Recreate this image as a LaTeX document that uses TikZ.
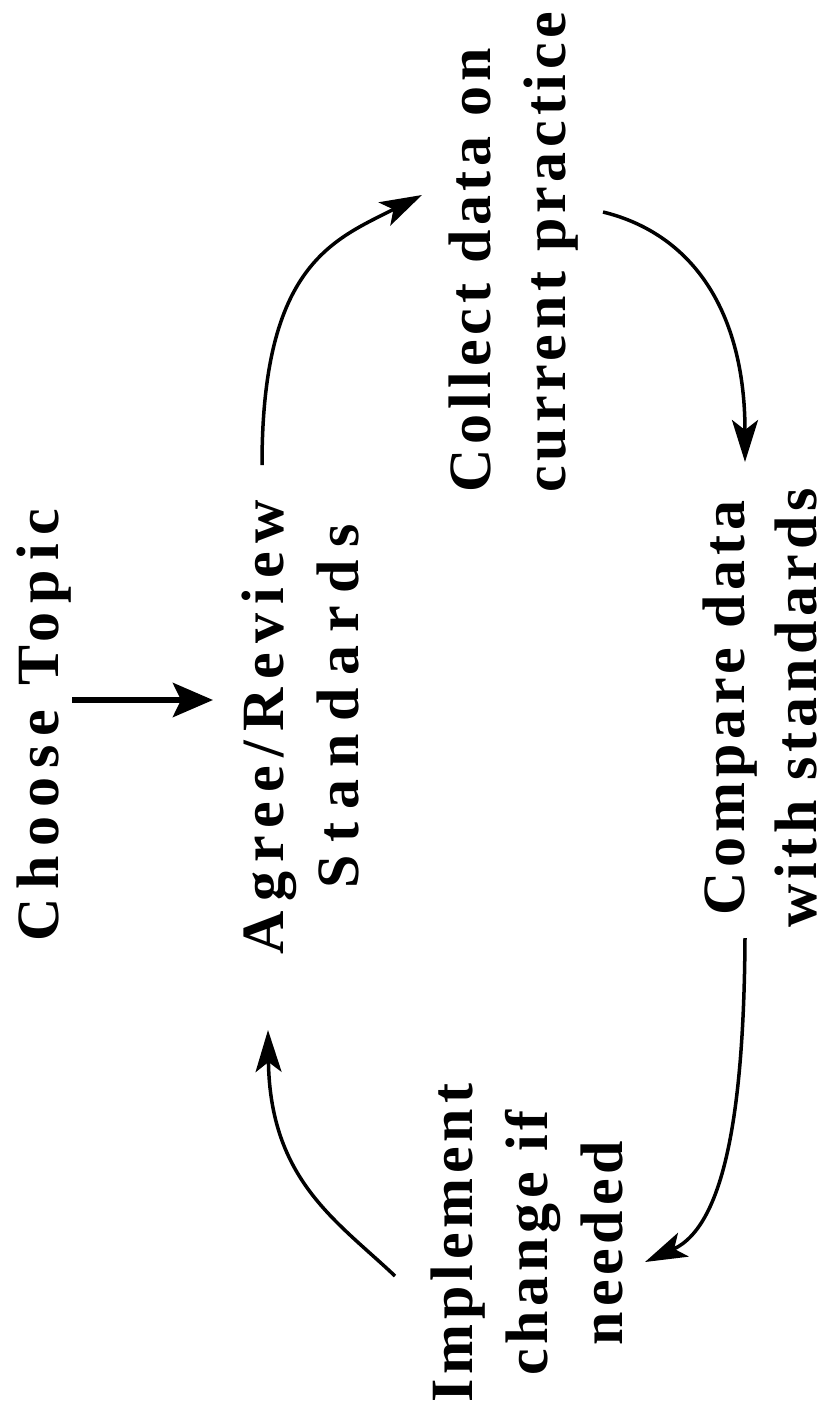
\documentclass[tikz,border=0pt]{standalone}
\usepackage{fontspec}
\setmainfont{Liberation Serif}
\usetikzlibrary{arrows.meta,calc}
\tikzset{
  lbl/.style={rotate=90, inner sep=0pt, align=center,
    font=\bfseries\fontsize{60}{75}\selectfont},
  conn/.style={line width=3.5pt, -{Stealth[length=42pt,width=26pt,inset=10pt]}},
  thickconn/.style={line width=6pt, -{Stealth[length=40pt,width=34pt,inset=8pt]}}
}
\newcommand{\lsp}[2]{{\addfontfeature{LetterSpace=#1}#2}}
\begin{document}
\begin{tikzpicture}[x=1pt,y=-1pt]
\fill[white] (0,0) rectangle (831,1405);
\useasboundingbox (0,0) rectangle (831,1405);

\node[lbl] (choose) at (44,725) {\lsp{15}{Choose Topic}};
\node[lbl] (agree) at (300,727) {\lsp{15}{Agree/Review}\\\hspace*{42pt}\lsp{21}{Standards}};
\node[lbl, align=left] (collect) at (514,252) {\lsp{8}{Collect data on}\\\lsp{8}{current practice}};
\node[lbl, font=\bfseries\fontsize{60}{72}\selectfont] (compare) at (760,708) {\lsp{8}{Compare data}\\\lsp{8}{with standards}};
\node[lbl] (implement) at (527,1243) {\lsp{8}{Implement}\\\lsp{8}{change if}\\\lsp{8}{needed}};

\draw[thickconn] ($(choose)+(28,-25)$) -- ($(agree)+(-87,-27)$);
\draw[conn] ($(agree)+(-38,-262)$) .. controls ($(agree)+(-38,-462)$) and ($(collect)+(-181,-12)$) .. ($(collect)+(-92,-57)$);
\draw[conn] ($(collect)+(89,-40)$) .. controls ($(collect)+(179,-18)$) and ($(compare)+(-15,-396)$) .. ($(compare)+(-15,-246)$);
\draw[conn] ($(compare)+(-15,230)$) .. controls ($(compare)+(-16,392)$) and ($(implement)+(200,-18)$) .. ($(implement)+(118,19)$);
\draw[conn] ($(implement)+(-132,33)$) .. controls ($(implement)+(-190,-22)$) and ($(agree)+(-30,453)$) .. ($(agree)+(-32,303)$);
\end{tikzpicture}
\end{document}
